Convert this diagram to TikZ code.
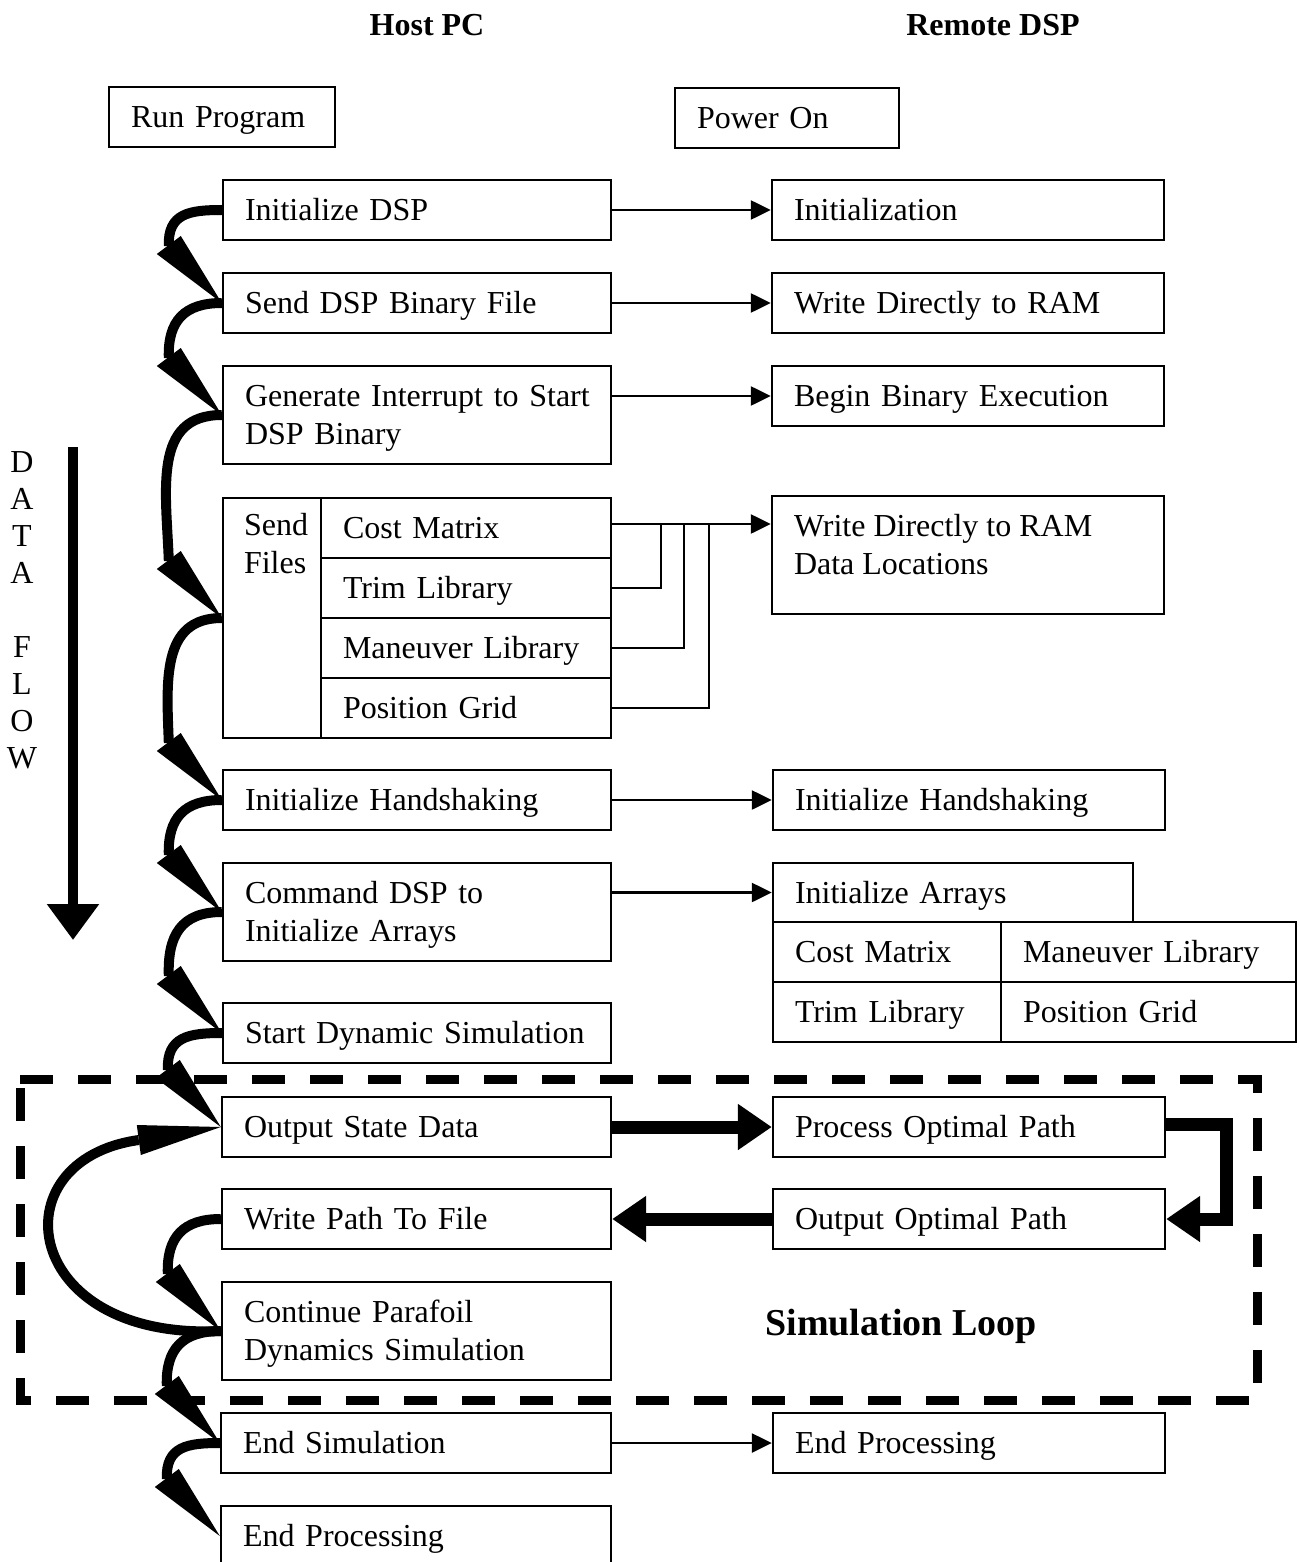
\documentclass[tikz,border=0pt]{standalone}
\usepackage{fontspec}
\setmainfont{Liberation Serif}
\usetikzlibrary{arrows.meta,calc}
\newcommand\fs{\fontsize{32}{38}\selectfont}
\tikzset{
  box/.style={draw, line width=2.4pt, inner xsep=22pt, inner ysep=0pt, align=left, font=\fs, anchor=center},
  thinarrow/.style={line width=2.4pt, -{Triangle[length=20pt,width=19pt]}},
  heavyarrow/.style={line width=13pt, line join=miter, -{Triangle[length=34pt,width=44pt]}},
  flowline/.style={line width=10pt},
  header/.style={font=\fs\bfseries},
}
% box: [lines] name, centre x, centre y, width, height, text
\newcommand\bx[7][1]{\pgfmathsetmacro\tw{#5-44}\pgfmathsetmacro\td{38*(#1-1)}%
  \node[box, minimum width=#5pt, minimum height=#6pt, text width=\tw pt,
        text height=21.5pt, text depth=\td pt] (#2) at (#3,#4) {#7};}
% curved flow arrow from the left side of one box to the left side of the next
\newcommand\flow[3]{%
  \draw[flowline] (#1.west) to[out=180,in=92,looseness=#3] ($(#2.west)+(-53,-57)$);
  \fill ($(#2.west)$) -- ($(#2.west)+(-65,-49)$) -- ($(#2.west)+(-41,-67)$) -- cycle;}
\begin{document}
\begin{tikzpicture}[x=1pt,y=-1pt]
\useasboundingbox (0,0) rectangle (1299,1562);

% column headers
\node[header] (hpc) at (427,25) {Host PC};
\node[header] (rdsp) at (993,25) {Remote DSP};

% boxes
\bx{run}{222}{117}{226}{60}{Run Program}
\bx{pwr}{787}{118}{224}{60}{Power On}
\bx{idsp}{417}{210}{388}{60}{Initialize DSP}
\bx{init}{968}{210}{392}{60}{Initialization}
\bx{sdsp}{417}{303}{388}{60}{Send DSP Binary File}
\bx{wram}{968}{303}{392}{60}{Write Directly to RAM}
\bx[2]{gint}{417}{415}{388}{98}{\mbox{Generate Interrupt to Start}\\DSP Binary}
\bx{bbe}{968}{396}{392}{60}{Begin Binary Execution}
\bx{sfo}{417}{618}{388}{240}{}
\node[font=\fs, anchor=base west, align=left, inner sep=0pt] (sft) at ($(sfo.north west)+(22,77)$) {Send\\Files};
\bx{cm}{466}{528}{290}{60}{Cost Matrix}
\bx{tl}{466}{588}{290}{60}{Trim Library}
\bx{ml}{466}{648}{290}{60}{Maneuver Library}
\bx{pg}{466}{708}{290}{60}{Position Grid}
\bx{wrd}{968}{555}{392}{118}{}
\node[font=\fs, anchor=base west, align=left, inner sep=0pt] (wrdt) at ($(wrd.north west)+(23,80)$) {Write Directly to RAM\\Data Locations};
\bx{ihs}{417}{800}{388}{60}{Initialize Handshaking}
\bx{ihs2}{969}{800}{392}{60}{Initialize Handshaking}
\bx[2]{cmd}{417}{912}{388}{98}{Command DSP to\\Initialize Arrays}
\bx{iarr}{953}{892.5}{360}{59}{Initialize Arrays}
\bx{cmx}{887}{952}{228}{60}{Cost Matrix}
\bx{mlb}{1148.5}{952}{295}{60}{Maneuver Library}
\bx{tlb}{887}{1012}{228}{60}{Trim Library}
\bx{pgr}{1148.5}{1012}{295}{60}{Position Grid}
\bx{sds}{417}{1033}{388}{60}{Start Dynamic Simulation}
\bx{osd}{416.5}{1127}{389}{60}{Output State Data}
\bx{pop}{969}{1127}{392}{60}{Process Optimal Path}
\bx{wpf}{416.5}{1219}{389}{60}{Write Path To File}
\bx{oop}{969}{1219}{392}{60}{Output Optimal Path}
\bx[2]{cpd}{416.5}{1331}{389}{98}{Continue Parafoil\\Dynamics Simulation}
\bx{ens}{416}{1443}{390}{60}{End Simulation}
\bx{enp2}{969}{1443}{392}{60}{End Processing}
\bx{enp}{416}{1536}{390}{60}{End Processing}

% host to DSP messages
\draw[thinarrow] (idsp.east) -- (init.west);
\draw[thinarrow] (sdsp.east) -- (wram.west);
\draw[thinarrow] (gint.east |- bbe.west) -- (bbe.west);
\draw[thinarrow] ($(cm.east)+(0,-4)$) -- ($(cm.east -| wrd.west)+(0,-4)$);
\draw[line width=2.4pt] (tl.east) -| ($(cm.east)+(49,-4)$);
\draw[line width=2.4pt] (ml.east) -| ($(cm.east)+(72,-4)$);
\draw[line width=2.4pt] (pg.east) -| ($(cm.east)+(97,-4)$);
\draw[thinarrow] (ihs.east) -- (ihs2.west);
\draw[thinarrow] (cmd.east |- iarr.west) -- (iarr.west);
\draw[thinarrow] (ens.east) -- (enp2.west);

% simulation loop exchange
\draw[heavyarrow] (osd.east) -- (pop.west);
\draw[heavyarrow] ($(pop.east)+(0,-3)$) -- ++(60,0) |- (oop.east);
\draw[heavyarrow] (oop.west) -- (wpf.east);

% sequence on the host side
\flow{idsp}{sdsp}{1.3}
\flow{sdsp}{gint}{1.25}
\flow{gint}{sfo}{1.15}
\flow{sfo}{ihs}{1.15}
\flow{ihs}{cmd}{1.25}
\flow{cmd}{sds}{1.25}
\flow{sds}{osd}{1.3}
\flow{wpf}{cpd}{1.25}
\flow{cpd}{ens}{1.25}
\flow{ens}{enp}{1.3}

% loop back
\draw[flowline] (cpd.west) .. controls ($(cpd.west)+(-200,10)$) and ($(osd.west)+(-225,33)$) .. ($(osd.west)+(-82,13)$);
\fill (osd.west) -- ($(osd.west)+(-80,28)$) -- ($(osd.west)+(-84,-2)$) -- cycle;

% simulation loop frame
\coordinate (lpa) at (20,1079);
\coordinate (lpb) at (1257,1400);
\draw[line width=9pt, dash pattern=on 33pt off 25pt] (lpa) -- (lpa -| lpb) -- (lpb) -- (lpb -| lpa) -- cycle;
\node[font=\fontsize{38}{44}\selectfont\bfseries] (sl) at (901,1326) {Simulation Loop};

% data flow direction
\node[font=\fontsize{32}{37}\selectfont, align=center, inner sep=0pt] (df) at (22,610) {D\\A\\T\\A\\[37pt]F\\L\\O\\W};
\coordinate (dfs) at (73,447);
\coordinate (dfe) at (73,940);
\draw[line width=10pt, -{Triangle[length=36pt,width=50pt]}] (dfs) -- (dfe);
\end{tikzpicture}
\end{document}
